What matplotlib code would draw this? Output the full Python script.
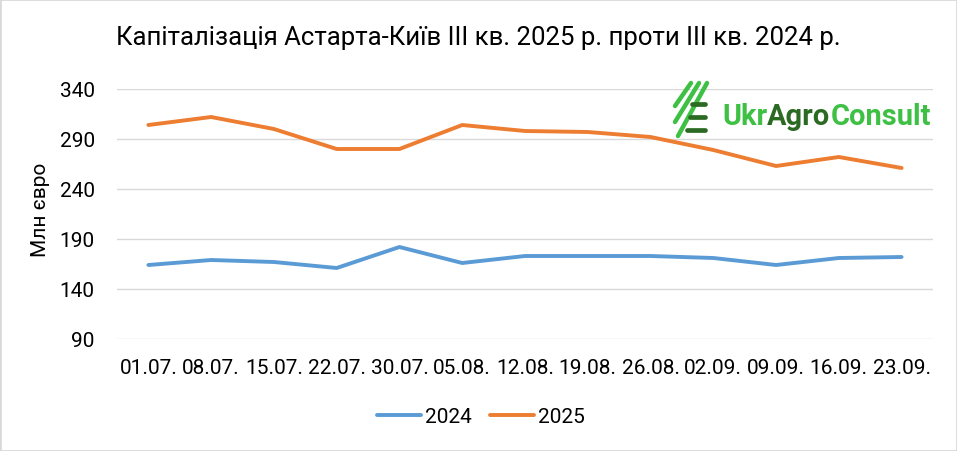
import numpy as np
import matplotlib
matplotlib.use("Agg")
import matplotlib.pyplot as plt
from matplotlib.lines import Line2D
from matplotlib.patches import Rectangle

# ---- data ----
dates = ['01.07.', '08.07.', '15.07.', '22.07.', '30.07.', '05.08.', '12.08.',
         '19.08.', '26.08.', '02.09.', '09.09.', '16.09.', '23.09.']
v2024 = [164, 169, 167, 161, 182, 166, 173, 173, 173, 171, 164, 171, 172]
v2025 = [304, 312, 300, 280, 280, 304, 298, 297, 292, 279, 263, 272, 261]
yticks = [90, 140, 190, 240, 290, 340]
title = 'Капіталізація Астарта-Київ ІІІ кв. 2025 р. проти ІІІ кв. 2024 р.'
ylabel = 'Млн євро'

BLUE = '#5B9BD5'
ORANGE = '#ED7D31'
GRID = '#D9D9D9'
LG = '#3DC043'
DG = '#2B6A22'

plt.rcParams['font.family'] = ['Roboto', 'DejaVu Sans']

W, H = 957, 452
fig = plt.figure(figsize=(W / 100, H / 100), dpi=100)
fig.patch.set_facecolor('white')


def px(x, y):
    return x / W, 1 - y / H


ax = fig.add_axes([117 / W, 1 - 340 / H, 816 / W, 250 / H])
x = np.arange(len(dates))
ax.plot(x, v2024, color=BLUE, lw=2.8, label='2024', solid_capstyle='round', solid_joinstyle='round')
ax.plot(x, v2025, color=ORANGE, lw=2.8, label='2025', solid_capstyle='round', solid_joinstyle='round')
ax.set_xlim(-0.5, len(dates) - 0.5)
ax.set_ylim(90, 340)
ax.set_yticks(yticks)
ax.set_xticks(x)
ax.set_xticklabels(dates)
ax.yaxis.grid(True, color=GRID, lw=1.0)
ax.set_axisbelow(True)
for s in ax.spines.values():
    s.set_visible(False)
ax.tick_params(axis='both', length=0, labelsize=15, colors='#000000')
ax.tick_params(axis='y', pad=16)
ax.tick_params(axis='x', pad=14)

fig.text(*px(40, 210), ylabel, rotation=90, ha='center', va='center', fontsize=15)
fig.text(*px(478.5, 38), title, ha='center', va='center', fontsize=18.5)

fig.legend(loc='center', bbox_to_anchor=px(481, 418), ncol=2, frameon=False,
           fontsize=15, handlelength=2.1, handletextpad=0.2, columnspacing=0.9)

# frame
fig.add_artist(Rectangle((0, 0), 1, 1, transform=fig.transFigure, fill=False,
                         edgecolor=GRID, lw=2.0))

# ---- logo ----
for (x0, y0, x1, y1) in [(675, 107, 691, 84), (675, 123, 699, 84), (678, 137, 707, 84)]:
    fig.add_artist(Line2D([x0 / W, x1 / W], [1 - y0 / H, 1 - y1 / H], transform=fig.transFigure,
                          color=LG, lw=3.2, solid_capstyle='round'))
for (x0, x1, y) in [(692, 705, 105), (690, 705, 118), (687, 705, 131)]:
    fig.add_artist(Line2D([x0 / W, x1 / W], [1 - y / H, 1 - y / H], transform=fig.transFigure,
                          color=DG, lw=3.4, solid_capstyle='round'))

renderer = fig.canvas.get_renderer()
parts = [('Ukr', LG), ('Agro', DG), ('Consult', LG)]
fs = 20.0
target_w = 208.0
tmp = []
for s, c in parts:
    t = fig.text(0, 0, s, fontsize=fs, fontweight='bold', color=c)
    tmp.append(t)
total = sum(t.get_window_extent(renderer).width for t in tmp)
for t in tmp:
    t.remove()
fs = fs * target_w / total
xcur = 722.0
for s, c in parts:
    t = fig.text(xcur / W, 1 - 125 / H, s, fontsize=fs, fontweight='bold', color=c,
                 family=['Roboto', 'DejaVu Sans'], va='baseline', ha='left')
    wpx = t.get_window_extent(renderer).width
    xcur += wpx

fig.savefig('out.png', dpi=100)
